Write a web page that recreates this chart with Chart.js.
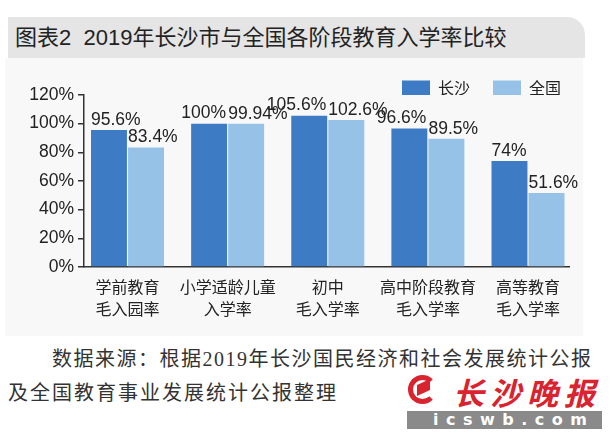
<!DOCTYPE html>
<html>
<head>
<meta charset="utf-8">
<script src="https://cdn.jsdelivr.net/npm/chart.js@4"></script>
<style>
    html, body { margin: 0; padding: 0; background: #fff; }
    body { width: 613px; height: 439px; position: relative; overflow: hidden; font-family: "Liberation Sans", "Noto Sans CJK SC", sans-serif; }
    .title-bar { position: absolute; left: 8px; top: 17px; width: 577px; height: 41px; background: #e5e5e5; border-top-right-radius: 18px; }
    .title-bar span { position: absolute; left: 7px; top: 0; line-height: 41px; font-size: 22px; color: #222; white-space: pre; }
    .panel { position: absolute; left: 5px; top: 58px; width: 578px; height: 278px; background: #f8f8f8; }
    #chart { position: absolute; left: 0; top: 40px; }
    .note { position: absolute; font-family: "Liberation Serif", "Noto Sans CJK SC", serif; font-size: 20px; color: #333; white-space: nowrap; letter-spacing: 1.5px; }
    .logo-icon { position: absolute; left: 408px; top: 375px; width: 19px; height: 19px; border: 5px solid #d9232e; border-right-color: transparent; border-radius: 50%; }
    .logo-icon::after { content: ""; position: absolute; left: 4px; top: 2px; width: 13px; height: 11px; background: #d9232e; transform: skewY(-25deg); }
    .logo-text { position: absolute; left: 453px; top: 369px; font-family: "Noto Sans CJK SC", sans-serif; font-weight: 700; font-size: 31px; letter-spacing: 6px; color: #d9232e; font-style: italic; }
    .logo-bar { position: absolute; left: 407px; top: 411px; width: 195px; height: 18px; background: #8a8a8a; color: #fff; font-family: "DejaVu Sans", sans-serif; font-weight: bold; font-size: 16px; line-height: 18px; letter-spacing: 7.5px; text-indent: 26px; }
</style>
</head>
<body>
<div class="title-bar"><span>图表2  2019年长沙市与全国各阶段教育入学率比较</span></div>
<div class="panel"></div>
<canvas id="chart" width="613" height="298"></canvas>
<div class="note" style="left:52px; top:343px;">数据来源：根据2019年长沙国民经济和社会发展统计公报</div>
<div class="note" style="left:8px; top:377px; letter-spacing: 2px;">及全国教育事业发展统计公报整理</div>
<div class="logo-icon"></div>
<div class="logo-text">长沙晚报</div>
<div class="logo-bar">icswb.com</div>
<script>
// Chart data
const categories = [
    ['学前教育', '毛入园率'],
    ['小学适龄儿童', '入学率'],
    ['初中', '毛入学率'],
    ['高中阶段教育', '毛入学率'],
    ['高等教育', '毛入学率']
];
const seriesNames = ['长沙', '全国'];
const changsha = [95.6, 100, 105.6, 96.6, 74];
const national = [83.4, 99.94, 102.6, 89.5, 51.6];
const yMin = 0, yMax = 120, yStep = 20;

// x range around the category indices
const xMin = -0.4345, xMax = 4.4095;

Chart.defaults.font.family = '"Liberation Sans", "Noto Sans CJK SC", sans-serif';
Chart.defaults.color = '#222';

// value labels above the bars
const valueLabels = {
    id: 'valueLabels',
    afterDatasetsDraw(chart) {
        const ctx = chart.ctx;
        ctx.save();
        ctx.font = '17.5px "Liberation Sans", sans-serif';
        ctx.fillStyle = '#222';
        ctx.textBaseline = 'alphabetic';
        const metas = chart.data.datasets.map((ds, d) => chart.getDatasetMeta(d));
        chart.data.datasets.forEach((ds, d) => {
            metas[d].data.forEach((bar, i) => {
                const text = ds.data[i].y + '%';
                const next = metas[d + 1] ? metas[d + 1].data[i] : null;
                // when the neighbour label sits at about the same height, push this one left
                if (next && Math.abs(next.y - bar.y) < 14) {
                    ctx.textAlign = 'right';
                    ctx.fillText(text, bar.x + bar.width / 2 - 1, bar.y - 6);
                } else {
                    ctx.textAlign = 'left';
                    ctx.fillText(text, bar.x - bar.width / 2, bar.y - 5);
                }
            });
        });
        ctx.restore();
    }
};

const ctx = document.getElementById('chart').getContext('2d');
new Chart(ctx, {
    type: 'bar',
    data: {
        datasets: [
            {
                label: seriesNames[0],
                data: changsha.map((v, i) => ({ x: i, y: v })),
                backgroundColor: '#3d7bc5', // dark blue
                borderWidth: 0
            },
            {
                label: seriesNames[1],
                data: national.map((v, i) => ({ x: i, y: v })),
                backgroundColor: '#97c2e8', // light blue
                borderWidth: 0
            }
        ]
    },
    options: {
        responsive: false,
        animation: false,
        devicePixelRatio: 1,
        categoryPercentage: 0.74,
        barPercentage: 0.97,
        layout: { padding: { top: 17, right: 29, left: 0, bottom: 0 } },
        plugins: {
            tooltip: { enabled: false },
            legend: {
                position: 'top',
                align: 'end',
                maxHeight: 38,
                labels: {
                    boxWidth: 28,
                    boxHeight: 15,
                    padding: 23,
                    color: '#222',
                    font: { size: 16, family: '"Noto Sans CJK SC", sans-serif' }
                }
            }
        },
        scales: {
            x: {
                type: 'linear',
                offset: false,
                bounds: 'data',
                min: xMin,
                max: xMax,
                grid: { display: false },
                border: { display: true, color: '#333', width: 1.5 },
                afterBuildTicks: s => { s.ticks = categories.map((c, i) => ({ value: i })); },
                afterFit: s => { s.height = 71; },
                ticks: {
                    autoSkip: false,
                    maxRotation: 0,
                    padding: 1,
                    color: '#222',
                    font: { size: 16, lineHeight: 1.375, family: '"Noto Sans CJK SC", sans-serif' },
                    callback: v => categories[v]
                }
            },
            y: {
                min: yMin,
                max: yMax,
                afterFit: s => { s.width = 84; },
                grid: { drawOnChartArea: false, tickLength: 6, color: '#333', lineWidth: 1.5 },
                border: { display: true, color: '#333', width: 1.5 },
                ticks: {
                    stepSize: yStep,
                    padding: 4,
                    color: '#222',
                    font: { size: 17.5 },
                    callback: v => v + '%'
                }
            },
            yRight: {
                position: 'right',
                display: true,
                afterFit: s => { s.width = 15; },
                grid: { display: false },
                border: { display: false },
                ticks: { display: false }
            }
        }
    },
    plugins: [valueLabels]
});
</script>
</body>
</html>
